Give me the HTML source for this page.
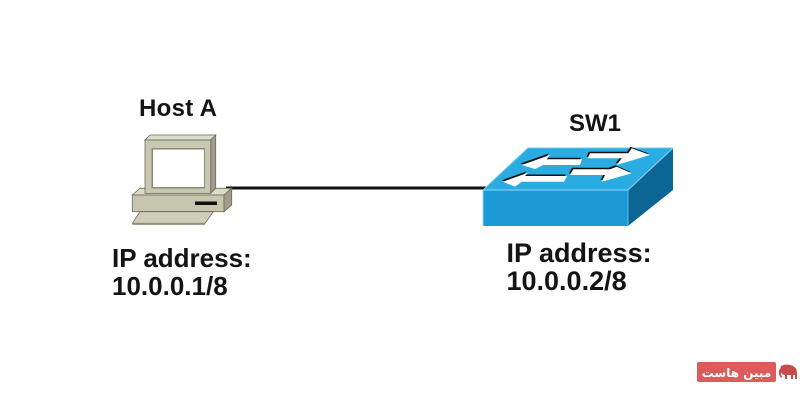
<!DOCTYPE html>
<html>
<head>
<meta charset="utf-8">
<style>
  html,body{margin:0;padding:0;background:#fff;}
  #wrap{position:relative;width:800px;height:400px;overflow:hidden;background:#fff;}
  .t{position:absolute;font-family:"Liberation Sans",Arial,sans-serif;font-weight:bold;color:#141414;white-space:nowrap;}
  svg{position:absolute;left:0;top:0;}
</style>
</head>
<body>
<div id="wrap">
<svg width="800" height="400" viewBox="0 0 800 400" xmlns="http://www.w3.org/2000/svg">
  <!-- connector line -->
  <line x1="226" y1="188" x2="486" y2="188" stroke="#111" stroke-width="3"/>

  <!-- ===== Host A computer ===== -->
  <!-- base top face -->
  <polygon points="132.3,195 140,188.3 231.7,188.3 224,195" fill="#dcdccb" stroke="#6a6a5e" stroke-width="0.8"/>
  <!-- base front face -->
  <rect x="132.3" y="195" width="91.7" height="16.7" fill="#c6c6af" stroke="#6a6a5e" stroke-width="0.8"/>
  <!-- base right face -->
  <polygon points="224,195 231.7,188.3 231.7,205 224,211.7" fill="#9d9d88" stroke="#6a6a5e" stroke-width="0.8"/>
  <!-- slot -->
  <rect x="195" y="201.5" width="22" height="3.5" fill="#111"/>
  <!-- keyboard -->
  <polygon points="140,211.7 213.3,211.7 205,223.3 132.3,223.3" fill="#cdcdb8" stroke="#6a6a5e" stroke-width="0.8"/>
  <polygon points="132.3,223.3 205,223.3 205,225 132.3,225" fill="#9d9d88"/>

  <!-- monitor top face -->
  <polygon points="145,140 150,135 215.7,135 210.7,140" fill="#dcdccb" stroke="#6a6a5e" stroke-width="0.8"/>
  <!-- monitor right face -->
  <polygon points="210.7,140 215.7,135 215.7,188.3 210.7,193.3" fill="#9d9d88" stroke="#6a6a5e" stroke-width="0.8"/>
  <!-- monitor front -->
  <rect x="145" y="140" width="65.7" height="53.3" fill="#c8c8b1" stroke="#6a6a5e" stroke-width="0.8"/>
  <!-- screen bevel -->
  <rect x="151.5" y="148" width="53.5" height="40.5" fill="#8a8a78"/>
  <rect x="153" y="149.5" width="51" height="37.5" fill="#ffffff"/>

  <!-- ===== SW1 switch ===== -->
  <!-- front face -->
  <rect x="483" y="190" width="145" height="36" fill="#1c9ad5"/>
  <!-- right face -->
  <polygon points="628,190 673,148 673,190 628,226" fill="#0c6694"/>
  <!-- top face -->
  <polygon points="483,190 528,148 673,148 628,190" fill="#2aabe2"/>
  <!-- highlight edges -->
  <polyline points="483,226 483,190 628,190 673,148" fill="none" stroke="#8fd8f6" stroke-width="1"/>
  <line x1="628" y1="190" x2="628" y2="226" stroke="#5cc0ea" stroke-width="1"/>
  <polyline points="483,190 528,148 673,148" fill="none" stroke="#6cc8f0" stroke-width="1"/>

  <!-- arrows: shadow copies -->
  <g fill="#111" transform="translate(-1.2,-1.5)">
    <polygon points="521.7,165 550,155 546.7,159.3 582,159.3 580,165 543,165 535,169"/>
    <polygon points="503,181.7 528,172.7 525,176 567,176 564,181.7 521.7,181.7 515,186.7"/>
    <polygon points="590,153.3 628.3,153.3 631.7,148.3 650,155 616.7,165 621.7,158.3 587.7,158.3"/>
    <polygon points="573.3,169.3 610,169.3 616.7,166.7 631.7,173.3 601.7,181.7 605,175 570,175"/>
  </g>
  <g fill="#ffffff">
    <polygon points="521.7,165 550,155 546.7,159.3 582,159.3 580,165 543,165 535,169"/>
    <polygon points="503,181.7 528,172.7 525,176 567,176 564,181.7 521.7,181.7 515,186.7"/>
    <polygon points="590,153.3 628.3,153.3 631.7,148.3 650,155 616.7,165 621.7,158.3 587.7,158.3"/>
    <polygon points="573.3,169.3 610,169.3 616.7,166.7 631.7,173.3 601.7,181.7 605,175 570,175"/>
  </g>

  <!-- ===== watermark ===== -->
  <rect x="697" y="362" width="79" height="20" rx="2" fill="#de5b5b"/>
  <text x="736.5" y="377" text-anchor="middle" font-family="DejaVu Sans, sans-serif" font-weight="bold" font-size="12" fill="#ffffff" direction="rtl">مبین هاست</text>
  <!-- elephant icon -->
  <g fill="#c94a4a">
    <path d="M781,366 q6,-3 12,0 q4,2 4,7 l0,6 l-2,0 l0,-4 l-2,0 l0,4 l-2,0 l0,-4 l-4,0 l0,4 l-2,0 l0,-4 q-3,0 -4,-3 q-1,-3 0,-6 z"/>
    <path d="M781,368 q-3,2 -2,6 q1,3 2,4 l1,-1 q-1,-2 -1,-4 q0,-2 1,-3 z"/>
  </g>
</svg>

<div class="t" style="left:139px;top:97.4px;font-size:24px;line-height:24px;letter-spacing:0.3px;">Host A</div>
<div class="t" style="left:569px;top:112.4px;font-size:24px;line-height:24px;">SW1</div>

<div class="t" style="left:112px;top:243.7px;font-size:26px;line-height:28px;">IP address:<br>10.0.0.1/8</div>
<div class="t" style="left:506.5px;top:240.1px;font-size:27px;line-height:27.7px;">IP address:<br>10.0.0.2/8</div>
</div>
</body>
</html>
